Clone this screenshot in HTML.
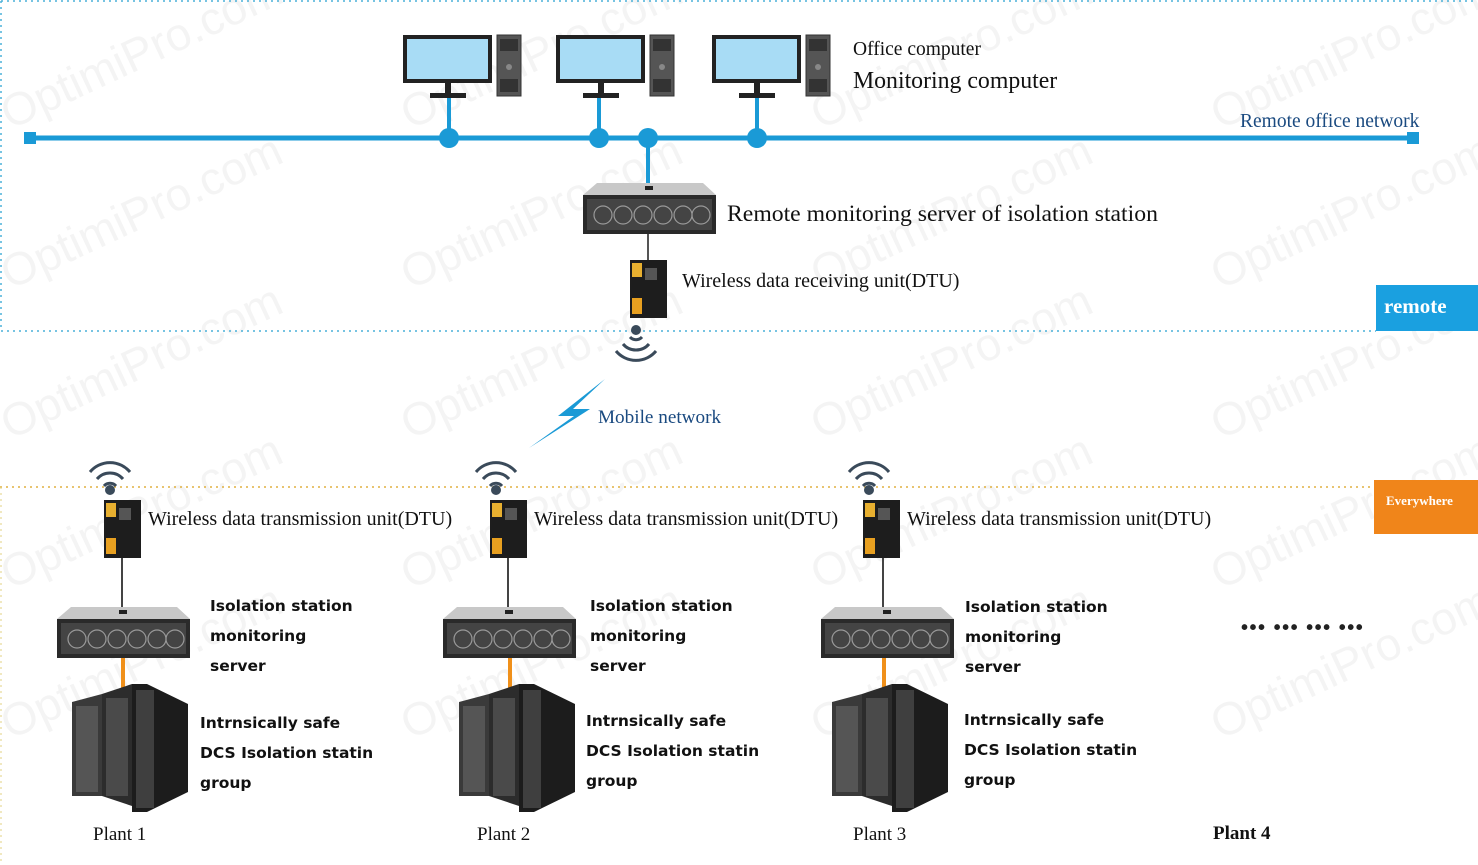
<!DOCTYPE html>
<html><head><meta charset="utf-8"><style>
body{margin:0;background:#fff}
svg{display:block}
.s{font-family:"Liberation Serif",serif;fill:#111}
.b{font-family:"DejaVu Sans","Liberation Sans",sans-serif;font-weight:bold;fill:#111;font-size:15.5px}
.wm{font-family:"Liberation Sans",sans-serif;font-size:46px;fill:#000;opacity:0.045}
</style></head><body>
<svg width="1478" height="865" viewBox="0 0 1478 865" xmlns="http://www.w3.org/2000/svg">
<defs>
<g id="pc">
<rect x="0" y="0" width="89" height="48" fill="#222"/>
<rect x="4" y="4" width="81" height="40" fill="#a8dcf5"/>
<rect x="42" y="48" width="6" height="12" fill="#222"/>
<rect x="27" y="58" width="36" height="5" fill="#222"/>
<rect x="94" y="0" width="24" height="61" fill="#555" stroke="#333"/>
<rect x="97" y="4" width="18" height="12" fill="#333"/>
<circle cx="106" cy="32" r="3" fill="#888"/>
<rect x="97" y="44" width="18" height="13" fill="#333"/>
</g>
<g id="srv">
<polygon points="14,0 120,0 133,12 0,12" fill="#c8c8c8"/>
<rect x="0" y="12" width="133" height="39" fill="#2a2a2a"/>
<rect x="4" y="16" width="125" height="31" fill="#444"/>
<g fill="none" stroke="#999" stroke-width="1.2">
<circle cx="20" cy="32" r="9"/><circle cx="40" cy="32" r="9"/><circle cx="60" cy="32" r="9"/><circle cx="80" cy="32" r="9"/><circle cx="100" cy="32" r="9"/><circle cx="118" cy="32" r="9"/></g>
<rect x="62" y="3" width="8" height="4" fill="#222"/>
</g>
<g id="dtu">
<rect x="0" y="0" width="37" height="58" fill="#1d1d1d"/>
<rect x="2" y="3" width="10" height="14" fill="#e8b030"/>
<rect x="2" y="38" width="10" height="16" fill="#e8a020"/>
<rect x="15" y="8" width="12" height="12" fill="#555"/>
</g>
<g id="rack">
<polygon points="0,18 30,10 30,112 0,112" fill="#3a3a3a"/>
<polygon points="30,10 60,0 60,122 30,112" fill="#2c2c2c"/>
<polygon points="60,0 75,0 116,20 116,108 75,128 60,128" fill="#1c1c1c"/>
<rect x="4" y="22" width="22" height="86" fill="#555"/>
<rect x="34" y="14" width="22" height="98" fill="#4a4a4a"/>
<rect x="64" y="6" width="18" height="118" fill="#3f3f3f"/>
</g>
<g id="wifi" fill="none" stroke="#3a4a5a" stroke-width="3">
<path d="M-20,-6 A26,26 0 0 1 20,-6"/><path d="M-13,1 A17,17 0 0 1 13,1"/><path d="M-6,8 A8,8 0 0 1 6,8"/>
</g>
</defs>

<g class="wm">
<text x="10" y="130" transform="rotate(-25 10 130)">OptimiPro.com</text>
<text x="410" y="130" transform="rotate(-25 410 130)">OptimiPro.com</text>
<text x="820" y="130" transform="rotate(-25 820 130)">OptimiPro.com</text>
<text x="1220" y="130" transform="rotate(-25 1220 130)">OptimiPro.com</text>
<text x="10" y="290" transform="rotate(-25 10 290)">OptimiPro.com</text>
<text x="410" y="290" transform="rotate(-25 410 290)">OptimiPro.com</text>
<text x="820" y="290" transform="rotate(-25 820 290)">OptimiPro.com</text>
<text x="1220" y="290" transform="rotate(-25 1220 290)">OptimiPro.com</text>
<text x="10" y="440" transform="rotate(-25 10 440)">OptimiPro.com</text>
<text x="410" y="440" transform="rotate(-25 410 440)">OptimiPro.com</text>
<text x="820" y="440" transform="rotate(-25 820 440)">OptimiPro.com</text>
<text x="1220" y="440" transform="rotate(-25 1220 440)">OptimiPro.com</text>
<text x="10" y="590" transform="rotate(-25 10 590)">OptimiPro.com</text>
<text x="410" y="590" transform="rotate(-25 410 590)">OptimiPro.com</text>
<text x="820" y="590" transform="rotate(-25 820 590)">OptimiPro.com</text>
<text x="1220" y="590" transform="rotate(-25 1220 590)">OptimiPro.com</text>
<text x="10" y="740" transform="rotate(-25 10 740)">OptimiPro.com</text>
<text x="410" y="740" transform="rotate(-25 410 740)">OptimiPro.com</text>
<text x="820" y="740" transform="rotate(-25 820 740)">OptimiPro.com</text>
<text x="1220" y="740" transform="rotate(-25 1220 740)">OptimiPro.com</text>
</g>

<path d="M1,1 H1477 M1,1 V331 M1,331 H1376" stroke="#4ab0d8" stroke-width="1.5" stroke-dasharray="2,4" fill="none"/>
<path d="M0,487 H1374" stroke="#e0b040" stroke-width="1.5" stroke-dasharray="2,4" fill="none"/>
<path d="M1,487 V865" stroke="#e0d080" stroke-width="1" stroke-dasharray="2,4" fill="none"/>

<line x1="30" y1="138" x2="1413" y2="138" stroke="#1a9ad6" stroke-width="5"/>
<rect x="24" y="132" width="12" height="12" fill="#1a9ad6"/>
<rect x="1407" y="132" width="12" height="12" fill="#1a9ad6"/>
<g stroke="#1a9ad6" stroke-width="4">
<line x1="449" y1="98" x2="449" y2="138"/><line x1="599" y1="98" x2="599" y2="138"/><line x1="757" y1="98" x2="757" y2="138"/><line x1="648" y1="138" x2="648" y2="183"/>
</g>
<g fill="#1a9ad6"><circle cx="449" cy="138" r="10"/><circle cx="599" cy="138" r="10"/><circle cx="648" cy="138" r="10"/><circle cx="757" cy="138" r="10"/></g>
<use href="#pc" x="403" y="35"/>
<use href="#pc" x="556" y="35"/>
<use href="#pc" x="712" y="35"/>
<text class="s" x="853" y="55" font-size="19.5">Office computer</text>
<text class="s" x="853" y="88" font-size="23.8">Monitoring computer</text>
<text class="s" x="1240" y="127" font-size="19.5" style="fill:#1a4a80">Remote office network</text>

<line x1="648" y1="230" x2="648" y2="262" stroke="#555" stroke-width="2"/>
<use href="#srv" x="583" y="183"/>
<text class="s" x="727" y="221" font-size="23.7">Remote monitoring server of isolation station</text>
<use href="#dtu" x="630" y="260"/>
<text class="s" x="682" y="287" font-size="20">Wireless data receiving unit(DTU)</text>
<g transform="translate(636,345) rotate(180)"><use href="#wifi"/></g>
<circle cx="636" cy="330" r="5" fill="#3a4a5a"/>

<rect x="1376" y="285" width="102" height="46" fill="#1aa0e0"/>
<text x="1384" y="313" font-family="Liberation Serif,serif" font-weight="bold" font-size="21" fill="#fff">remote</text>
<rect x="1374" y="480" width="104" height="54" fill="#f0851a"/>
<text x="1386" y="505" font-family="Liberation Serif,serif" font-weight="bold" font-size="13" fill="#fff">Everywhere</text>

<polygon points="605,379 558,416 574,416 529,448 590,409 573,409" fill="#1a9ad6"/>
<text class="s" x="598" y="423" font-size="19.2" style="fill:#1a4a80">Mobile network</text>

<g>
<use href="#wifi" x="110" y="478"/><circle cx="110" cy="490" r="5" fill="#3a4a5a"/>
<use href="#dtu" x="104" y="500"/>
<line x1="122" y1="558" x2="122" y2="610" stroke="#444" stroke-width="2"/>
<use href="#srv" x="57" y="607"/>
<line x1="123" y1="658" x2="123" y2="700" stroke="#f0901a" stroke-width="4"/>
<use href="#rack" x="72" y="684"/>
<text class="s" x="148" y="525" font-size="20">Wireless data transmission unit(DTU)</text>
<text class="b" x="210" y="611">Isolation station</text>
<text class="b" x="210" y="641">monitoring</text>
<text class="b" x="210" y="671">server</text>
<text class="b" x="200" y="728">Intrnsically safe</text>
<text class="b" x="200" y="758">DCS Isolation statin</text>
<text class="b" x="200" y="788">group</text>
<text class="s" x="93" y="840" font-size="19">Plant 1</text>
</g>
<g>
<use href="#wifi" x="496" y="478"/><circle cx="496" cy="490" r="5" fill="#3a4a5a"/>
<use href="#dtu" x="490" y="500"/>
<line x1="508" y1="558" x2="508" y2="610" stroke="#444" stroke-width="2"/>
<use href="#srv" x="443" y="607"/>
<line x1="510" y1="658" x2="510" y2="700" stroke="#f0901a" stroke-width="4"/>
<use href="#rack" x="459" y="684"/>
<text class="s" x="534" y="525" font-size="20">Wireless data transmission unit(DTU)</text>
<text class="b" x="590" y="611">Isolation station</text>
<text class="b" x="590" y="641">monitoring</text>
<text class="b" x="590" y="671">server</text>
<text class="b" x="586" y="726">Intrnsically safe</text>
<text class="b" x="586" y="756">DCS Isolation statin</text>
<text class="b" x="586" y="786">group</text>
<text class="s" x="477" y="840" font-size="19">Plant 2</text>
</g>
<g>
<use href="#wifi" x="869" y="478"/><circle cx="869" cy="490" r="5" fill="#3a4a5a"/>
<use href="#dtu" x="863" y="500"/>
<line x1="883" y1="558" x2="883" y2="610" stroke="#444" stroke-width="2"/>
<use href="#srv" x="821" y="607"/>
<line x1="884" y1="658" x2="884" y2="700" stroke="#f0901a" stroke-width="4"/>
<use href="#rack" x="832" y="684"/>
<text class="s" x="907" y="525" font-size="20">Wireless data transmission unit(DTU)</text>
<text class="b" x="965" y="612">Isolation station</text>
<text class="b" x="965" y="642">monitoring</text>
<text class="b" x="965" y="672">server</text>
<text class="b" x="964" y="725">Intrnsically safe</text>
<text class="b" x="964" y="755">DCS Isolation statin</text>
<text class="b" x="964" y="785">group</text>
<text class="s" x="853" y="840" font-size="19">Plant 3</text>
</g>
<text x="1241" y="634" font-family="Liberation Sans,sans-serif" font-weight="bold" font-size="20" fill="#222" letter-spacing="1.5">••• ••• ••• •••</text>
<text x="1213" y="839" font-family="Liberation Serif,serif" font-weight="bold" font-size="19" fill="#111">Plant 4</text>
</svg>
</body></html>
